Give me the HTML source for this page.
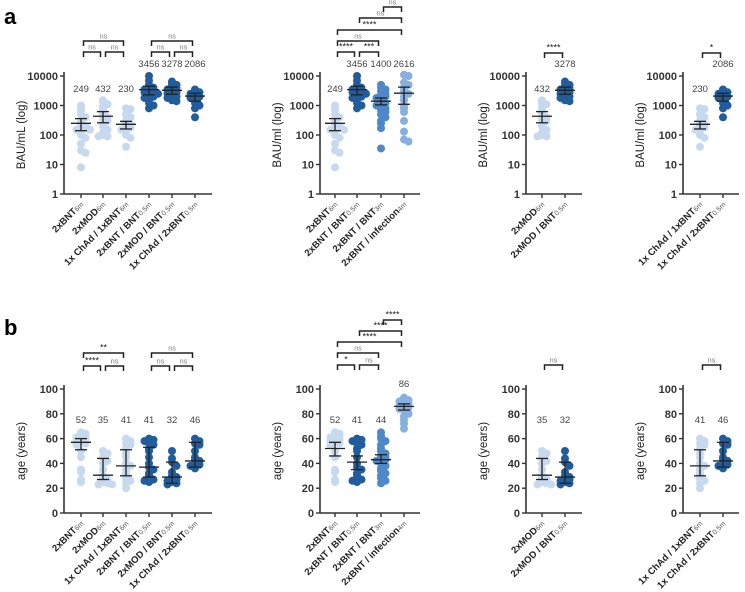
<!DOCTYPE html>
<html><head><meta charset="utf-8"><style>
body{margin:0;background:#fff;}
svg{display:block;font-family:"Liberation Sans",Arial,sans-serif;}
</style></head><body>
<svg id="fig" width="745" height="592" viewBox="0 0 745 592" xmlns="http://www.w3.org/2000/svg">
<text x="4" y="24" font-size="22" font-weight="bold">a</text>
<text x="4" y="335" font-size="22" font-weight="bold">b</text>
</svg>
<script>
const LIGHT='#c6d9ef',DARK='#215d9c',MID='#4f88c8',INF='#86b0df';
const groupNames={
 bnt6:['2xBNT','6m',LIGHT], mod6:['2xMOD','6m',LIGHT], chad6:['1x ChAd / 1xBNT','6m',LIGHT],
 bntb05:['2xBNT / BNT','0.5m',DARK], modb05:['2xMOD / BNT','0.5m',DARK], chadb05:['1x ChAd / 2xBNT','0.5m',DARK],
 bntb3:['2xBNT / BNT','3m',MID], inf:['2xBNT / infection','4m',INF]
};
const abBnt6=[1000,900,700,500,400,300,250,200,200,150,150,120,100,80,50,30,25,8];
const abMod6=[1500,1300,1100,900,700,500,400,350,300,250,200,150,120,100,90,90];
const abChad6=[800,750,500,400,300,250,230,200,180,150,130,100,80,40];
const abBntb05=[10000,7000,5000,4500,4000,3500,3200,3000,2800,2500,2200,2000,1800,1500,1200,1000,800];
const abModb05=[6500,5500,5000,4500,4000,3500,3000,2800,2500,2200,2000,1800,1500,1400];
const abChadb05=[3500,3000,2800,2500,2200,2000,1800,1500,1200,1000,800,400];
const abBntb3=[5000,4000,3500,3000,2500,2200,2000,1800,1500,1300,1200,1000,900,800,700,600,500,400,300,250,170,35];
const abInf=[11000,10000,6000,5000,4000,3000,2500,2000,1500,1000,800,600,300,130,70,60];
const abMed={bnt6:249,mod6:432,chad6:230,bntb05:3456,modb05:3278,chadb05:2086,bntb3:1400,inf:2616};
const abCI={bnt6:[140,360],mod6:[260,620],chad6:[160,290],bntb05:[2300,4500],modb05:[2400,4200],chadb05:[1400,2600],bntb3:[1050,1800],inf:[1100,4200]};
const ageBnt6=[65,64,63,62,61,60,59,58,57,56,55,50,45,35,33,27,25];
const ageMod6=[50,48,45,44,42,40,35,30,28,27,25,24,23,23];
const ageChad6=[60,58,56,55,52,48,45,40,38,35,32,30,28,26,24,20];
const ageBntb05=[60,59,58,56,55,52,50,45,40,37,35,32,30,28,27,26,25];
const ageModb05=[50,44,41,38,33,30,29,28,27,26,25,24,23];
const ageChadb05=[60,58,56,55,50,45,43,42,40,39,38,36];
const ageBntb3=[65,62,60,58,55,52,50,48,46,45,44,43,42,40,38,36,34,32,30,28,26,24];
const ageInf=[93,92,91,90,89,88,87,86,85,84,83,80,78,75,72,68];

const ns='http://www.w3.org/2000/svg';
const svg=document.getElementById('fig');
function el(tag,attrs,parent){const e=document.createElementNS(ns,tag);for(const k in attrs)e.setAttribute(k,attrs[k]);(parent||svg).appendChild(e);return e;}

function panel(p){
 const g=el('g',{});
 
 
 const log=p.log;
 const yS=v=>log? p.y0-Math.log10(v)/4*(p.y0-p.y1) : p.y0-(v/100)*(p.y0-p.y1);
 const ax=el('line',{x1:p.ax,y1:p.y1-4,x2:p.ax,y2:p.y0,stroke:'#333','stroke-width':1.6},g);
 
 const xa=el('line',{x1:p.ax,y1:p.y0,x2:p.axEnd,y2:p.y0,stroke:'#333','stroke-width':1.6},g);
 
 const ticks=log?[1,10,100,1000,10000]:[0,20,40,60,80,100];
 ticks.forEach(t=>{const y=yS(t);
  el('line',{x1:p.ax-4,y1:y,x2:p.ax,y2:y,stroke:'#333','stroke-width':1.4},g);
  const tx=el('text',{x:p.ax-6,y:y+4,'font-size':11,'font-weight':'bold','text-anchor':'end',fill:'#333'},g);
  tx.textContent=t;
  
 });
 const yt=el('text',{transform:`translate(${p.ax-39},${(p.y0+p.y1)/2}) rotate(-90)`,'font-size':11.5,'text-anchor':'middle',fill:'#222'},g);
 yt.textContent=p.ytitle;
 
 p.groups.forEach((gr,i)=>{
  const cx=p.xs[i];const info=groupNames[gr.key];
  el('line',{x1:cx,y1:p.y0,x2:cx,y2:p.y0+4,stroke:'#333','stroke-width':1.4},g);
  const counts={};
  gr.vals.forEach((v,j)=>{
   const y=yS(v);const bin=Math.round(y/4);counts[bin]=(counts[bin]||0)+1;const n=counts[bin]-1;
   const off=(n===0?0:(n%2?1:-1)*Math.ceil(n/2)*4.5);
   const c=el('circle',{cx:cx+off,cy:y,r:4,fill:info[2]},g);
   
  });
  const med=gr.med,ci=gr.ci;
  const em=el('g',{stroke:'#222','stroke-width':1.3},g);
  
  el('line',{x1:cx-10,y1:yS(med),x2:cx+10,y2:yS(med)},em);
  el('line',{x1:cx,y1:yS(ci[0]),x2:cx,y2:yS(ci[1])},em);
  el('line',{x1:cx-6,y1:yS(ci[0]),x2:cx+6,y2:yS(ci[0])},em);
  el('line',{x1:cx-6,y1:yS(ci[1]),x2:cx+6,y2:yS(ci[1])},em);
  const lt=el('text',{x:cx,y:gr.ly,'font-size':9.5,'text-anchor':'middle',fill:'#444'},g);
  lt.textContent=gr.label;
  
  const xl=el('text',{transform:`translate(${cx+3},${p.y0+11}) rotate(-45)`,'font-size':9.5,'font-weight':'bold','text-anchor':'end',fill:'#222'},g);
  
  const m=el('tspan',{},xl);m.textContent=info[0];
  const s=el('tspan',{'font-size':7,'font-weight':'normal',fill:'#555'},xl);s.textContent=info[1];
 });
 (p.brackets||[]).forEach(b=>{
  const x1=p.xs[b[0]]+2.5,x2=p.xs[b[1]]-2.5,y=b[2];
  const bg=el('g',{},g);
  
  el('path',{d:`M${x1},${y+5}V${y}H${x2}V${y+5}`,fill:'none',stroke:'#222','stroke-width':1.5},bg);
  const t=el('text',{x:(x1+x2)/2,y:y-2.5,'font-size':b[3]==='ns'?7:9,'text-anchor':'middle',fill:b[3]==='ns'?'#777':'#222'},bg);
  t.textContent=b[3];
 });
}
const A={log:true,y0:194,y1:76,ytitle:'BAU/ml (log)'};
const B={log:false,y0:513,y1:389,ytitle:'age (years)'};
const x1=[81,103,126,149,172,195],x2=[335,357,381,404],x3=[542,565],x4=[700,723];
panel(Object.assign({},A,{name:'panel-a1',ytitle:'BAU/mL (log)',ax:64,axEnd:212,xs:x1,groups:[
 {key:'bnt6',vals:abBnt6,med:abMed.bnt6,ci:abCI.bnt6,label:'249',ly:92},
 {key:'mod6',vals:abMod6,med:abMed.mod6,ci:abCI.mod6,label:'432',ly:92},
 {key:'chad6',vals:abChad6,med:abMed.chad6,ci:abCI.chad6,label:'230',ly:92},
 {key:'bntb05',vals:abBntb05,med:abMed.bntb05,ci:abCI.bntb05,label:'3456',ly:67},
 {key:'modb05',vals:abModb05,med:abMed.modb05,ci:abCI.modb05,label:'3278',ly:67},
 {key:'chadb05',vals:abChadb05,med:abMed.chadb05,ci:abCI.chadb05,label:'2086',ly:67}],
 brackets:[[0,2,41,'ns'],[0,1,52,'ns'],[1,2,52,'ns'],[3,5,41,'ns'],[3,4,52,'ns'],[4,5,52,'ns']]}));
panel(Object.assign({},A,{name:'panel-a2',ax:320,axEnd:420,xs:x2,groups:[
 {key:'bnt6',vals:abBnt6,med:abMed.bnt6,ci:abCI.bnt6,label:'249',ly:92},
 {key:'bntb05',vals:abBntb05,med:abMed.bntb05,ci:abCI.bntb05,label:'3456',ly:67},
 {key:'bntb3',vals:abBntb3,med:abMed.bntb3,ci:abCI.bntb3,label:'1400',ly:67},
 {key:'inf',vals:abInf,med:abMed.inf,ci:abCI.inf,label:'2616',ly:67}],
 brackets:[[2,3,7,'ns'],[1,3,18,'ns'],[0,3,30,'****'],[0,2,41,'ns'],[0,1,52,'****'],[1,2,52,'***']]}));
panel(Object.assign({},A,{name:'panel-a3',ax:526,axEnd:582,xs:x3,groups:[
 {key:'mod6',vals:abMod6,med:abMed.mod6,ci:abCI.mod6,label:'432',ly:92},
 {key:'modb05',vals:abModb05,med:abMed.modb05,ci:abCI.modb05,label:'3278',ly:67}],
 brackets:[[0,1,53,'****']]}));
panel(Object.assign({},A,{name:'panel-a4',ax:683,axEnd:739,xs:x4,groups:[
 {key:'chad6',vals:abChad6,med:abMed.chad6,ci:abCI.chad6,label:'230',ly:92},
 {key:'chadb05',vals:abChadb05,med:abMed.chadb05,ci:abCI.chadb05,label:'2086',ly:67}],
 brackets:[[0,1,53,'*']]}));
panel(Object.assign({},B,{name:'panel-b1',ax:64,axEnd:212,xs:x1,groups:[
 {key:'bnt6',vals:ageBnt6,med:57,ci:[51,60],label:'52',ly:423},
 {key:'mod6',vals:ageMod6,med:30.5,ci:[27,44],label:'35',ly:423},
 {key:'chad6',vals:ageChad6,med:38,ci:[30,51],label:'41',ly:423},
 {key:'bntb05',vals:ageBntb05,med:37,ci:[29,53],label:'41',ly:423},
 {key:'modb05',vals:ageModb05,med:29,ci:[24,41],label:'32',ly:423},
 {key:'chadb05',vals:ageChadb05,med:42,ci:[37,57],label:'46',ly:423}],
 brackets:[[0,2,353,'**'],[0,1,366,'****'],[1,2,366,'ns'],[3,5,353,'ns'],[3,4,366,'ns'],[4,5,366,'ns']]}));
panel(Object.assign({},B,{name:'panel-b2',ax:320,axEnd:420,xs:x2,groups:[
 {key:'bnt6',vals:ageBnt6,med:52,ci:[46,57],label:'52',ly:423},
 {key:'bntb05',vals:ageBntb05,med:41,ci:[35,46],label:'41',ly:423},
 {key:'bntb3',vals:ageBntb3,med:43,ci:[40,47],label:'44',ly:423},
 {key:'inf',vals:ageInf,med:86,ci:[83,88],label:'86',ly:387}],
 brackets:[[2,3,320,'****'],[1,3,331,'****'],[0,3,342,'****'],[0,2,353,'ns'],[0,1,365,'*'],[1,2,365,'ns']]}));
panel(Object.assign({},B,{name:'panel-b3',ax:526,axEnd:582,xs:x3,groups:[
 {key:'mod6',vals:ageMod6,med:30.5,ci:[27,44],label:'35',ly:423},
 {key:'modb05',vals:ageModb05,med:29,ci:[24,41],label:'32',ly:423}],
 brackets:[[0,1,365,'ns']]}));
panel(Object.assign({},B,{name:'panel-b4',ax:683,axEnd:739,xs:x4,groups:[
 {key:'chad6',vals:ageChad6,med:38,ci:[30,51],label:'41',ly:423},
 {key:'chadb05',vals:ageChadb05,med:42,ci:[37,57],label:'46',ly:423}],
 brackets:[[0,1,365,'ns']]}));
</script>
</body></html>
